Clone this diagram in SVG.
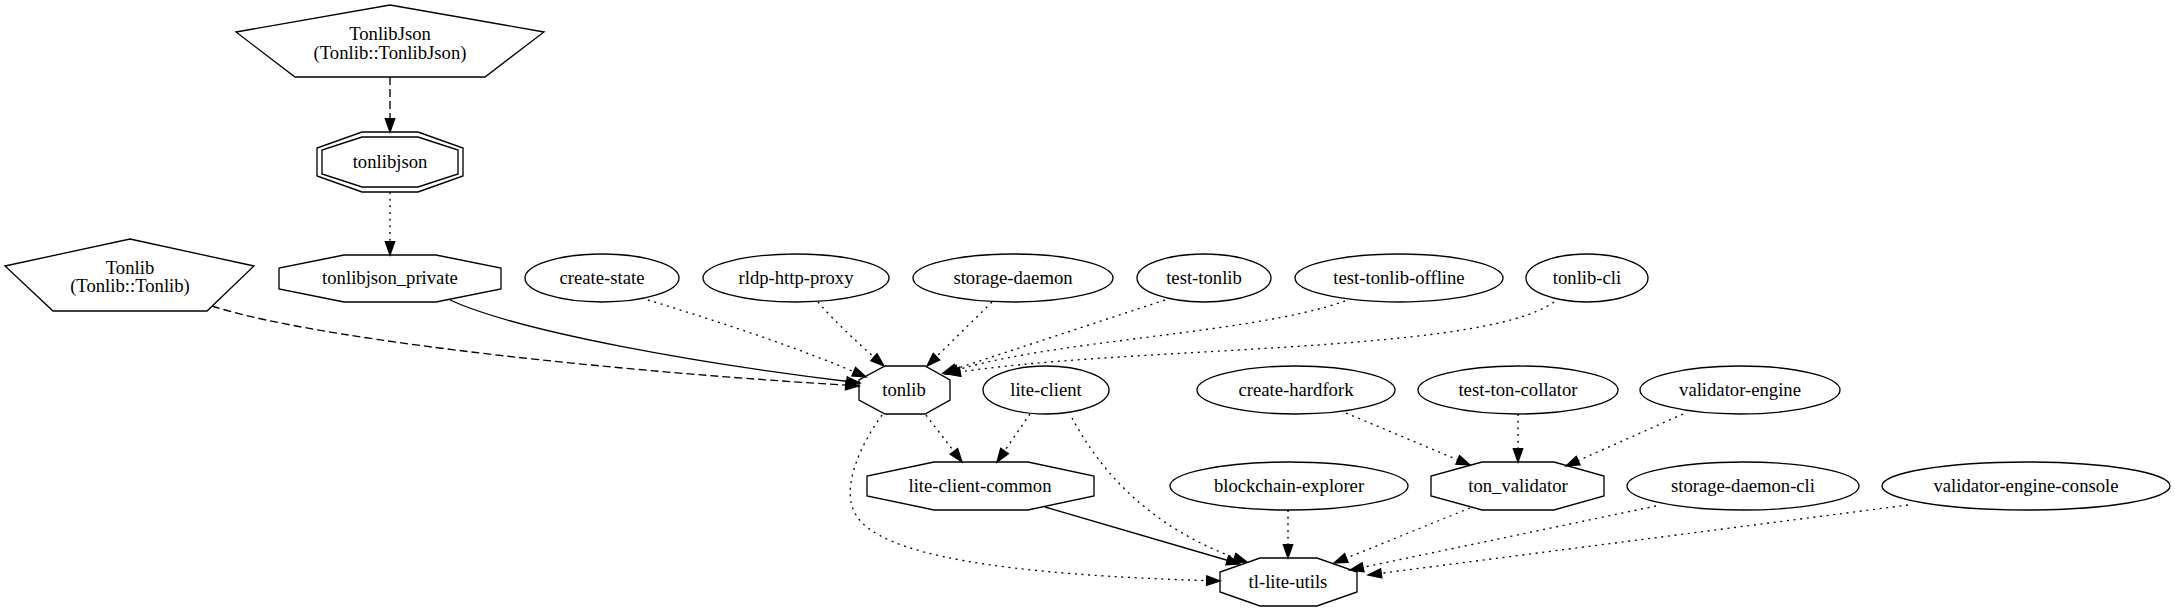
<svg xmlns="http://www.w3.org/2000/svg" width="2175" height="612" viewBox="0 0 2175 612">
<style>
.n polygon, .n ellipse { fill: none; stroke: #000; stroke-width: 1.33; }
text { font-family: "Liberation Serif", "Times New Roman", Times, serif; font-size: 18.67px; text-anchor: middle; fill: #000; }
.e path { fill: none; stroke: #000; stroke-width: 1.33; marker-end: url(#ah); }
.e .dot { stroke-dasharray: 2 4.67; }
.e .dash { stroke-dasharray: 8 4; }
</style>
<defs>
<marker id="ah" markerUnits="userSpaceOnUse" markerWidth="18" markerHeight="14" viewBox="-2 -7 18 14" refX="13.33" refY="0" orient="auto">
<path d="M0,-4.67 L13.33,0 L0,4.67 Z" fill="#000" stroke="#000" stroke-width="1.33"/>
</marker>
</defs>
<rect width="2175" height="612" fill="#fff"/>

<g id="nodes" font-family="Liberation Serif, Times New Roman, serif">
<g id="TonlibJson" class="n">
<polygon points="390,5 544,32 485,77 295,77 236,32"/>
<text x="390" y="40">TonlibJson</text>
<text x="390" y="59">(Tonlib::TonlibJson)</text>
</g>
<g id="tonlibjson" class="n">
<polygon points="362,132 418,132 463,148 463,176 418,192 362,192 317,176 317,148"/>
<polygon points="362,137 418,137 458,150 458,174 418,187 362,187 322,174 322,150"/>
<text x="390" y="168">tonlibjson</text>
</g>
<g id="Tonlib" class="n">
<polygon points="130,239 254,266 207,311 53,311 5,266"/>
<text x="130" y="274">Tonlib</text>
<text x="130" y="292">(Tonlib::Tonlib)</text>
</g>
<g id="tonlibjson_private" class="n">
<polygon points="344,255 436,255 501,268 501,289 436,302 344,302 279,289 279,268"/>
<text x="390" y="284">tonlibjson_private</text>
</g>
<g id="create-state" class="n">
<ellipse cx="602" cy="278" rx="77" ry="24"/>
<text x="602" y="284">create-state</text>
</g>
<g id="rldp-http-proxy" class="n">
<ellipse cx="796" cy="278" rx="93" ry="24"/>
<text x="796" y="284">rldp-http-proxy</text>
</g>
<g id="storage-daemon" class="n">
<ellipse cx="1013" cy="278" rx="100" ry="24"/>
<text x="1013" y="284">storage-daemon</text>
</g>
<g id="test-tonlib" class="n">
<ellipse cx="1204" cy="278" rx="67" ry="24"/>
<text x="1204" y="284">test-tonlib</text>
</g>
<g id="test-tonlib-offline" class="n">
<ellipse cx="1399" cy="278" rx="104" ry="24"/>
<text x="1399" y="284">test-tonlib-offline</text>
</g>
<g id="tonlib-cli" class="n">
<ellipse cx="1587" cy="278" rx="61" ry="24"/>
<text x="1587" y="284">tonlib-cli</text>
</g>
<g id="tonlib" class="n">
<polygon points="885,366 925,366 950,380 950,400 925,414 885,414 859,400 859,380"/>
<text x="904" y="396">tonlib</text>
</g>
<g id="lite-client" class="n">
<ellipse cx="1046" cy="390" rx="63" ry="24"/>
<text x="1046" y="396">lite-client</text>
</g>
<g id="create-hardfork" class="n">
<ellipse cx="1296" cy="390" rx="99" ry="24"/>
<text x="1296" y="396">create-hardfork</text>
</g>
<g id="test-ton-collator" class="n">
<ellipse cx="1518" cy="390" rx="100" ry="24"/>
<text x="1518" y="396">test-ton-collator</text>
</g>
<g id="validator-engine" class="n">
<ellipse cx="1740" cy="390" rx="100" ry="24"/>
<text x="1740" y="396">validator-engine</text>
</g>
<g id="lite-client-common" class="n">
<polygon points="934,462 1028,462 1094,476 1094,496 1028,510 934,510 867,496 867,476"/>
<text x="980" y="492">lite-client-common</text>
</g>
<g id="blockchain-explorer" class="n">
<ellipse cx="1289" cy="486" rx="119" ry="24"/>
<text x="1289" y="492">blockchain-explorer</text>
</g>
<g id="ton_validator" class="n">
<polygon points="1482,462 1554,462 1604,476 1604,496 1554,510 1482,510 1431,496 1431,476"/>
<text x="1518" y="492">ton_validator</text>
</g>
<g id="storage-daemon-cli" class="n">
<ellipse cx="1743" cy="486" rx="116" ry="24"/>
<text x="1743" y="492">storage-daemon-cli</text>
</g>
<g id="validator-engine-console" class="n">
<ellipse cx="2026" cy="486" rx="144" ry="24"/>
<text x="2026" y="492">validator-engine-console</text>
</g>
<g id="tl-lite-utils" class="n">
<polygon points="1260,558 1317,558 1357,572 1357,592 1317,606 1260,606 1220,592 1220,572"/>
<text x="1288" y="588">tl-lite-utils</text>
</g>
</g>

<g id="edges" class="e">
<path class="dash" d="M390,77 L390,132"/>
<path class="dot" d="M390,192 L390,255"/>
<path class="dash" d="M212,306 C300,335 560,368 859,386"/>
<path d="M450,300 C520,332 700,364 860,383"/>
<path class="dot" d="M648,300 C720,322 800,348 866,377"/>
<path class="dot" d="M818,302 C835,322 860,345 884,366"/>
<path class="dot" d="M992,302 L927,366"/>
<path class="dot" d="M1165,300 L943,373"/>
<path class="dot" d="M1345,301 C1250,335 1040,340 945,374"/>
<path class="dot" d="M1554,302 C1480,355 1120,345 947,374"/>
<path class="dot" d="M926,415 L962,462"/>
<path class="dot" d="M1030,414 L997,462"/>
<path class="dot" d="M882,415 C860,445 840,490 856,515 C880,555 1000,575 1220,581"/>
<path d="M1045,507 L1240,564"/>
<path class="dot" d="M1072,418 C1100,470 1150,530 1247,562"/>
<path class="dot" d="M1288,510 L1288,558"/>
<path class="dot" d="M1346,413 L1470,465"/>
<path class="dot" d="M1518,414 L1518,462"/>
<path class="dot" d="M1683,414 L1566,466"/>
<path class="dot" d="M1470,508 L1334,563"/>
<path class="dot" d="M1656,506 L1350,570"/>
<path class="dot" d="M1908,505 L1368,575"/>
</g>
</svg>
